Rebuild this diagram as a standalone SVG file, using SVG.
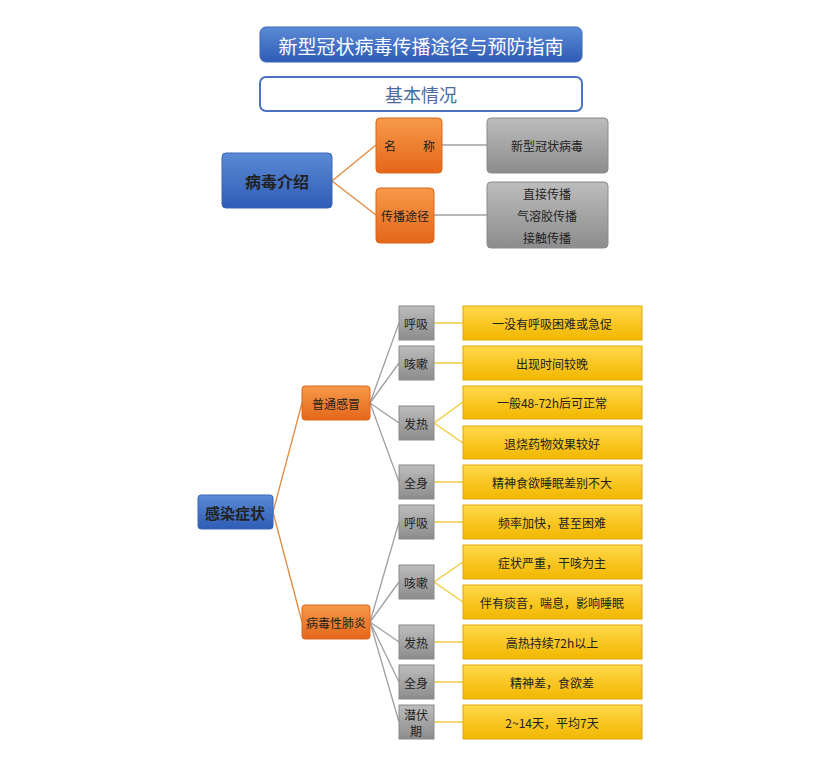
<svg xmlns="http://www.w3.org/2000/svg" width="827" height="782" viewBox="0 0 827 782">
<defs>
<linearGradient id="gb" x1="0" y1="0" x2="0" y2="1"><stop offset="0" stop-color="#5b8ad6"/><stop offset="1" stop-color="#2f5cb5"/></linearGradient>
<linearGradient id="go" x1="0" y1="0" x2="0" y2="1"><stop offset="0" stop-color="#f79a4a"/><stop offset="1" stop-color="#e4661a"/></linearGradient>
<linearGradient id="gg" x1="0" y1="0" x2="0" y2="1"><stop offset="0" stop-color="#bdbdbd"/><stop offset="1" stop-color="#8c8c8c"/></linearGradient>
<linearGradient id="gy" x1="0" y1="0" x2="0" y2="1"><stop offset="0" stop-color="#ffd84a"/><stop offset="1" stop-color="#f2b700"/></linearGradient>
</defs>
<style>
text{font-family:"Noto Sans CJK SC","Liberation Sans",sans-serif;text-anchor:middle;dominant-baseline:central;fill:#222}
.b{fill:url(#gb);stroke:#3a66b8}
.o{fill:url(#go);stroke:#d9661c}
.g{fill:url(#gg);stroke:#8a8a8a}
.y{fill:url(#gy);stroke:#e0a800}
.s{font-size:12px}
.lo{stroke:#e08a40;stroke-width:1.3;fill:none}
.lg{stroke:#a0a0a0;stroke-width:1.3;fill:none}
.ly{stroke:#f0cc40;stroke-width:1.5;fill:none}
</style>
<g id="connectors">
<path class="lo" d="M332 181L376 145M332 181L376 215"/>
<path class="lg" d="M442 145H487M434 215H487"/>
<path class="lo" d="M273 512L302 403M273 512L302 622"/>
<path class="lg" d="M370 403L399 323M370 403L399 363M370 403L399 423M370 403L399 482"/>
<path class="lg" d="M370 622L399 522M370 622L399 582M370 622L399 642M370 622L399 682M370 622L399 722"/>
<path class="ly" d="M434 323H463M434 363H463M434 423L463 402M434 423L463 443M434 482H463M434 522H463M434 582L463 562M434 582L463 602M434 642H463M434 682H463M434 722H463"/>
</g>
<g id="title"><rect x="260" y="27" width="322" height="35" rx="6" class="b"/><text x="421" y="45" font-size="19" fill="#fff" style="fill:#fff">新型冠状病毒传播途径与预防指南</text></g>
<g id="sub"><rect x="260" y="77" width="322" height="34" rx="6" fill="#fff" stroke="#4a72c0" stroke-width="2"/><text x="421" y="94" font-size="18" style="fill:#4a6a9a">基本情况</text></g>
<g id="n1"><rect x="222" y="153" width="110" height="55" rx="4" class="b"/><text x="277" y="181" font-size="16" font-weight="bold">病毒介绍</text></g>
<g id="n2"><rect x="376" y="118" width="66" height="55" rx="4" class="o"/><text x="390" y="145" class="s">名</text><text x="429" y="145" class="s">称</text></g>
<g id="n3"><rect x="376" y="188" width="58" height="55" rx="4" class="o"/><text x="405" y="215" class="s">传播途径</text></g>
<g id="n4"><rect x="487" y="118" width="121" height="55" rx="4" class="g"/><text x="547" y="145" class="s">新型冠状病毒</text></g>
<g id="n5"><rect x="487" y="182" width="121" height="66" rx="4" class="g"/><text x="547" y="193" class="s">直接传播</text><text x="547" y="215" class="s">气溶胶传播</text><text x="547" y="237" class="s">接触传播</text></g>
<g id="n6"><rect x="198" y="495" width="75" height="34" rx="3" class="b"/><text x="235" y="512" font-size="15" font-weight="bold">感染症状</text></g>
<g id="n7"><rect x="302" y="386" width="68" height="34" rx="3" class="o"/><text x="336" y="403" class="s">普通感冒</text></g>
<g id="n8"><rect x="302" y="605" width="68" height="34" rx="3" class="o"/><text x="336" y="622" class="s">病毒性肺炎</text></g>
<g id="g1"><rect x="399" y="306" width="35" height="34" class="g"/><text x="416" y="323" class="s">呼吸</text></g>
<g id="g2"><rect x="399" y="346" width="35" height="34" class="g"/><text x="416" y="363" class="s">咳嗽</text></g>
<g id="g3"><rect x="399" y="406" width="35" height="34" class="g"/><text x="416" y="423" class="s">发热</text></g>
<g id="g4"><rect x="399" y="465" width="35" height="34" class="g"/><text x="416" y="482" class="s">全身</text></g>
<g id="g5"><rect x="399" y="505" width="35" height="34" class="g"/><text x="416" y="522" class="s">呼吸</text></g>
<g id="g6"><rect x="399" y="565" width="35" height="34" class="g"/><text x="416" y="582" class="s">咳嗽</text></g>
<g id="g7"><rect x="399" y="625" width="35" height="34" class="g"/><text x="416" y="642" class="s">发热</text></g>
<g id="g8"><rect x="399" y="665" width="35" height="34" class="g"/><text x="416" y="682" class="s">全身</text></g>
<g id="g9"><rect x="399" y="705" width="35" height="34" class="g"/><text x="416" y="714" class="s">潜伏</text><text x="416" y="730" class="s">期</text></g>
<g id="y1"><rect x="463" y="306" width="179" height="34" class="y"/><text x="552" y="323" class="s">一没有呼吸困难或急促</text></g>
<g id="y2"><rect x="463" y="346" width="179" height="34" class="y"/><text x="552" y="363" class="s">出现时间较晚</text></g>
<g id="y3"><rect x="463" y="386" width="179" height="33" class="y"/><text x="552" y="402" class="s">一般48-72h后可正常</text></g>
<g id="y4"><rect x="463" y="426" width="179" height="33" class="y"/><text x="552" y="443" class="s">退烧药物效果较好</text></g>
<g id="y5"><rect x="463" y="465" width="179" height="34" class="y"/><text x="552" y="482" class="s">精神食欲睡眠差别不大</text></g>
<g id="y6"><rect x="463" y="505" width="179" height="34" class="y"/><text x="552" y="522" class="s">频率加快，甚至困难</text></g>
<g id="y7"><rect x="463" y="545" width="179" height="34" class="y"/><text x="552" y="562" class="s">症状严重，干咳为主</text></g>
<g id="y8"><rect x="463" y="585" width="179" height="34" class="y"/><text x="552" y="602" class="s">伴有痰音，喘息，影响睡眠</text></g>
<g id="y9"><rect x="463" y="625" width="179" height="34" class="y"/><text x="552" y="642" class="s">高热持续72h以上</text></g>
<g id="y10"><rect x="463" y="665" width="179" height="34" class="y"/><text x="552" y="682" class="s">精神差，食欲差</text></g>
<g id="y11"><rect x="463" y="705" width="179" height="34" class="y"/><text x="552" y="722" class="s">2~14天，平均7天</text></g>
</svg>
